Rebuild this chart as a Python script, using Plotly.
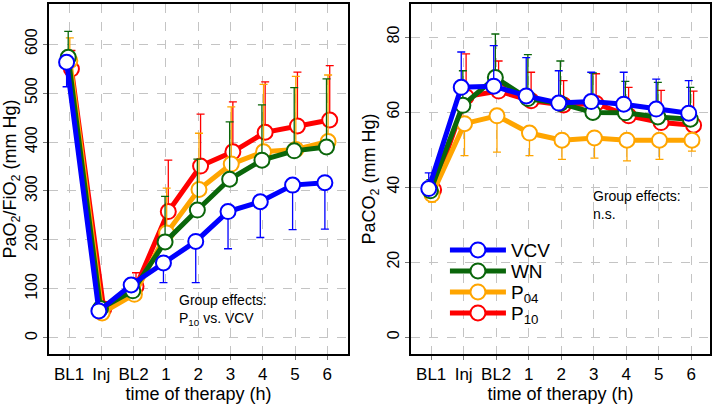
import plotly.graph_objects as go

categories = ["BL1", "Inj", "BL2", "1", "2", "3", "4", "5", "6"]
groups = ["VCV", "WN", "P04", "P10"]
group_labels = {"VCV": "VCV", "WN": "WN", "P04": "P<sub>04</sub>", "P10": "P<sub>10</sub>"}
colors = {"VCV": "#0000ff", "WN": "#0a660a", "P04": "#ffa500", "P10": "#ff0000"}

# PaO2/FiO2 (mm Hg): means and error lengths
pf_VCV = [563, 55, 108, 153, 197, 258, 278, 312, 317]
pf_WN = [573, 60, 96, 196, 261, 324, 363, 382, 390]
pf_P04 = [566, 51, 89, 214, 303, 355, 380, 385, 401]
pf_P10 = [549, 59, 105, 258, 351, 380, 420, 433, 445]
pf_err_VCV = [50, 8, 10, 40, 84, 76, 73, 91, 95]      # drawn downward
pf_err_WN = [53, 8, 16, 93, 104, 117, 113, 129, 139]  # upward
pf_err_P04 = [47, 7, 26, 92, 115, 117, 138, 149, 136]  # upward
pf_err_P10 = [38, 8, 28, 105, 106, 102, 103, 110, 111]  # upward

# PaCO2 (mm Hg): means and error lengths
co2_VCV = [39.6, 66.6, 66.9, 64.3, 62.4, 62.8, 62.1, 60.8, 59.7]
co2_WN = [39.0, 61.8, 69.2, 63.6, 62.3, 59.9, 59.8, 58.7, 58.1]
co2_P04 = [38.0, 56.9, 59.0, 54.4, 52.5, 53.1, 52.5, 52.5, 52.5]
co2_P10 = [39.3, 64.1, 65.6, 63.0, 61.9, 62.3, 59.0, 57.2, 56.5]
co2_err_VCV = [4.2, 9.4, 10.8, 10.2, 8.6, 7.8, 8.5, 8.0, 8.7]   # upward
co2_err_WN = [3.0, 9.2, 11.6, 11.7, 11.3, 10.5, 8.4, 9.2, 8.5]  # upward
co2_err_P04 = [2.0, 8.5, 9.7, 6.0, 5.1, 5.4, 5.5, 5.1, 2.9]     # downward
co2_err_P10 = [3.2, 11.4, 8.0, 7.6, 6.5, 7.9, 7.6, 8.6, 9.1]    # upward

pf = {"VCV": (pf_VCV, pf_err_VCV, "down"), "WN": (pf_WN, pf_err_WN, "up"),
      "P04": (pf_P04, pf_err_P04, "up"), "P10": (pf_P10, pf_err_P10, "up")}
co2 = {"VCV": (co2_VCV, co2_err_VCV, "up"), "WN": (co2_WN, co2_err_WN, "up"),
       "P04": (co2_P04, co2_err_P04, "down"), "P10": (co2_P10, co2_err_P10, "up")}
dodge = {"VCV": -0.075, "WN": -0.025, "P04": 0.025, "P10": 0.075}
legend_ids = {"VCV": "legend", "WN": "legend2", "P04": "legend3", "P10": "legend4"}

FONT = "Liberation Sans, Arial, sans-serif"
fig = go.Figure()
draw_order = ["P10", "P04", "WN", "VCV"]
for panel, (data, xa, ya) in enumerate([(pf, "x", "y"), (co2, "x2", "y2")]):
    for g in draw_order:
        vals, err, direction = data[g]
        zeros = [0] * len(err)
        ey = dict(type="data", symmetric=False,
                  array=err if direction == "up" else zeros,
                  arrayminus=err if direction == "down" else zeros,
                  color=colors[g], thickness=1.3, width=4)
        fig.add_trace(go.Scatter(
            x=[i + dodge[g] for i in range(len(categories))], y=vals,
            mode="lines+markers", name=group_labels[g],
            line=dict(color=colors[g], width=5),
            marker=dict(size=15, color="white", line=dict(color=colors[g], width=2)),
            error_y=ey, xaxis=xa, yaxis=ya, showlegend=(panel == 1),
            legend=legend_ids[g]))

tickfont = dict(family=FONT, size=17, color="black")
titlefont = dict(family=FONT, size=18, color="black")
common_x = dict(tickmode="array", tickvals=list(range(len(categories))), ticktext=categories,
                showgrid=True, gridcolor="#c4c4c4", griddash="dash", gridwidth=1,
                showline=True, linecolor="black", linewidth=2, mirror=True,
                ticks="outside", ticklen=4, tickcolor="#777", tickfont=tickfont,
                zeroline=False, automargin=False,
                title=dict(text="time of therapy (h)", font=titlefont, standoff=2))
common_y = dict(showgrid=True, gridcolor="#c4c4c4", griddash="dash", gridwidth=1,
                showline=True, linecolor="black", linewidth=2, mirror=True,
                ticks="outside", ticklen=4, tickcolor="#777", tickfont=dict(tickfont, size=16),
                tickangle=-90, zeroline=False, automargin=False)

legend_rows = {"legend": 0.297, "legend2": 0.237, "legend3": 0.177, "legend4": 0.117}
legend_layout = {
    k: dict(x=0.599, y=v, xanchor="left", yanchor="middle", bgcolor="rgba(0,0,0,0)",
            font=dict(family=FONT, size=19), itemwidth=56)
    for k, v in legend_rows.items()
}

fig.update_layout(
    width=714, height=407,
    margin=dict(l=49, r=4, t=4, b=53, autoexpand=False),
    paper_bgcolor="white", plot_bgcolor="white",
    font=dict(family=FONT, color="black"),
    xaxis=dict(common_x, domain=[0.0, 0.4523], range=[-0.62, 8.64], anchor="y"),
    yaxis=dict(common_y, domain=[0.0, 1.0], range=[-33, 682],
               tickvals=[0, 100, 200, 300, 400, 500, 600], anchor="x",
               title=dict(text="PaO<sub>2</sub>/FiO<sub>2</sub> (mm Hg)", font=titlefont, standoff=4)),
    xaxis2=dict(common_x, domain=[0.5477, 1.0], range=[-0.62, 8.58], anchor="y2"),
    yaxis2=dict(common_y, domain=[0.0, 1.0], range=[-4.5, 88.8],
                tickvals=[0, 20, 40, 60, 80], anchor="x2",
                title=dict(text="PaCO<sub>2</sub> (mm Hg)", font=titlefont, standoff=4)),
    shapes=[dict(type="rect", xref="paper", yref="paper", x0=0.592, x1=0.78, y0=0.09, y1=0.325,
                 fillcolor="white", line=dict(width=0), layer="between")],
    annotations=[
        dict(text="Group effects:<br>P<sub>10</sub> vs. VCV", xref="paper", yref="paper",
             x=0.1937, y=0.126, xanchor="left", yanchor="middle", align="left", showarrow=False,
             font=dict(family=FONT, size=14)),
        dict(text="Group effects:<br>n.s.", xref="paper", yref="paper",
             x=0.8200, y=0.426, xanchor="left", yanchor="middle", align="left", showarrow=False,
             font=dict(family=FONT, size=14)),
    ],
    **legend_layout,
)

fig.write_html("out.html", config={"displayModeBar": False},
               post_script="document.body.style.margin='0';")
